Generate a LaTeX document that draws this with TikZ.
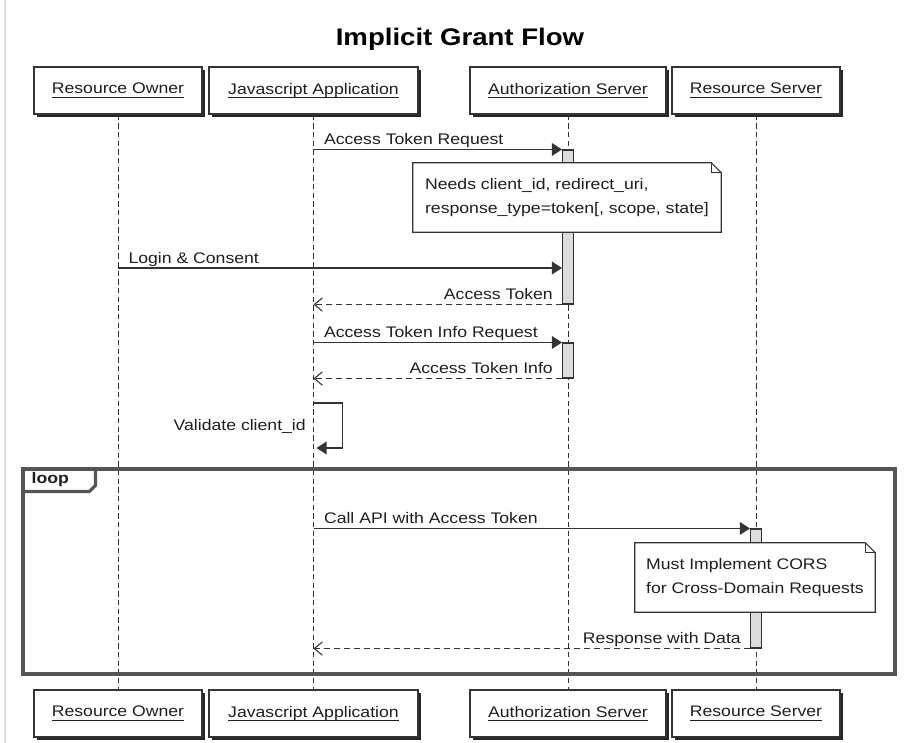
\documentclass[tikz,border=0pt]{standalone}
\usepackage{fontspec}
\setmainfont{Liberation Sans}[FakeStretch=1.15]
\usepackage{tikz}
\usetikzlibrary{arrows.meta, positioning, calc, shadows}
\definecolor{seqline}{HTML}{333333}
\definecolor{seqtext}{HTML}{1E1E1E}
\definecolor{barfill}{HTML}{DCDCDC}
\definecolor{framegray}{HTML}{555555}
\definecolor{edgegray}{HTML}{DDDDDD}
\newcommand{\actname}[1]{\setbox0\hbox{#1}\rlap{\copy0}\rule[-2.9pt]{\wd0}{0.8pt}}

\begin{document}
\begin{tikzpicture}[
    x=0.75pt, y=-0.75pt,
    every node/.append style={font=\fontsize{11.5}{14}\selectfont},
    actor/.style={rectangle, draw=seqline, line width=0.9pt, fill=white,
                  minimum height=35.25pt, inner sep=0pt, text=seqtext,
                  drop shadow={shadow xshift=2.6pt, shadow yshift=-2.6pt, fill=black, opacity=0.85}},
    life/.style={seqline, line width=0.7pt, dash pattern=on 4pt off 2.5pt},
    msg/.style={seqline, line width=0.8pt, -{Triangle[length=7.5pt, width=9.5pt]}},
    reply/.style={seqline, line width=0.8pt, dash pattern=on 4.5pt off 3pt,
                  -{Straight Barb[length=6pt, width=10pt]}},
    actbar/.style={rectangle, draw=seqline, line width=0.8pt, fill=barfill,
                   minimum width=8.25pt, inner sep=0pt},
    msglbl/.style={inner sep=0pt, text=seqtext},
    note/.style={rectangle, fill=white, align=left, inner sep=0pt, text=seqtext,
                 font=\fontsize{11.5}{17.5}\selectfont},
    noteline/.style={seqline, line width=0.8pt},
    loopframe/.style={draw=framegray, line width=2.4pt, line join=miter}
]
    \useasboundingbox (0,0) rectangle (904,743);
    \draw[edgegray, line width=2pt] (5,0) -- (5,743);

    % Title
    \node[text=black, font=\fontsize{18}{22}\selectfont\bfseries] (title) at (460,39) {Implicit Grant Flow};

    % Participants, top and bottom
    \node[actor, minimum width=126pt]    (ro) at (118,90.5)   {\actname{Resource Owner}};
    \node[actor, minimum width=156.75pt] (js) at (313.5,90.5) {\actname{Javascript Application}};
    \node[actor, minimum width=147pt]    (as) at (568,90.5)   {\actname{Authorization Server}};
    \node[actor, minimum width=126pt]    (rs) at (756,90.5)   {\actname{Resource Server}};

    \node[actor, minimum width=126pt]    (rob) at (118,713.5)   {\actname{Resource Owner}};
    \node[actor, minimum width=156.75pt] (jsb) at (313.5,713.5) {\actname{Javascript Application}};
    \node[actor, minimum width=147pt]    (asb) at (568,713.5)   {\actname{Authorization Server}};
    \node[actor, minimum width=126pt]    (rsb) at (756,713.5)   {\actname{Resource Server}};

    % Lifelines
    \draw[life] (ro) -- (rob);
    \draw[life] (js) -- (jsb);
    \draw[life] (as) -- (asb);
    \draw[life] (rs) -- (rsb);

    % Loop frame
    \node[loopframe, rectangle, minimum width=654pt, minimum height=153.75pt, inner sep=0pt] (loopbox) at (459,571.5) {};
    \draw[loopframe] ($(loopbox.north west)+(0,24)$) -- ++(68,0) -- ++(6,-6) -- ++(0,-18);
    \node[msglbl, anchor=west, font=\fontsize{11.5}{14}\selectfont\bfseries] (looplbl) at ($(loopbox.north west)+(10,12)$) {loop};

    % Activation bars
    \node[actbar, minimum height=115.5pt] (act1) at (568,227) {};
    \node[actbar, minimum height=26.25pt] (act2) at (568,360.5) {};
    \node[actbar, minimum height=89.25pt] (act3) at (756,588.5) {};

    % Messages
    \draw[msg] (js |- act1.north west) -- node[msglbl, pos=0, anchor=base west, xshift=7.5pt, yshift=3.5pt] {Access Token Request} (act1.north west);

    \coordinate (login) at (118,268);
    \draw[msg] (login) -- node[msglbl, pos=0, anchor=base west, xshift=7.5pt, yshift=3.5pt] {Login \& Consent} (login -| act1.west);

    \draw[reply] (act1.south west) -- node[msglbl, pos=0, anchor=base east, xshift=-6.5pt, yshift=3.5pt] {Access Token} (js |- act1.south west);

    \draw[msg] (js |- act2.north west) -- node[msglbl, pos=0, anchor=base west, xshift=7.5pt, yshift=3.5pt] {Access Token Info Request} (act2.north west);
    \draw[reply] (act2.south west) -- node[msglbl, pos=0, anchor=base east, xshift=-6.5pt, yshift=3.5pt] {Access Token Info} (js |- act2.south west);

    \coordinate (selfmsg) at (313.5,403);
    \draw[msg] (selfmsg) -- ++(29,0) -- ++(0,45) -- ++(-26,0);
    \node[msglbl, anchor=east] (vallbl) at (306,426) {Validate client\_id};

    \draw[msg] (js |- act3.north west) -- node[msglbl, pos=0, anchor=base west, xshift=7.5pt, yshift=3.5pt] {Call API with Access Token} (act3.north west);
    \draw[reply] (act3.south west) -- node[msglbl, pos=0, anchor=base east, xshift=-6.5pt, yshift=3.5pt] {Response with Data} (js |- act3.south west);

    % Notes
    \node[note, minimum width=231pt, minimum height=51.75pt] (note1) at (567,197.5) {Needs client\_id, redirect\_uri,\\response\_type=token[, scope, state]};
    \draw[noteline] (note1.north west) -- ([xshift=-7.5pt]note1.north east) -- ([yshift=-7.5pt]note1.north east) -- (note1.south east) -- (note1.south west) -- cycle;
    \draw[noteline] ([xshift=-7.5pt]note1.north east) |- ([yshift=-7.5pt]note1.north east);

    \node[note, minimum width=180pt, minimum height=51.75pt] (note2) at (755,577.5) {Must Implement CORS\\for Cross-Domain Requests};
    \draw[noteline] (note2.north west) -- ([xshift=-7.5pt]note2.north east) -- ([yshift=-7.5pt]note2.north east) -- (note2.south east) -- (note2.south west) -- cycle;
    \draw[noteline] ([xshift=-7.5pt]note2.north east) |- ([yshift=-7.5pt]note2.north east);

\end{tikzpicture}
\end{document}
